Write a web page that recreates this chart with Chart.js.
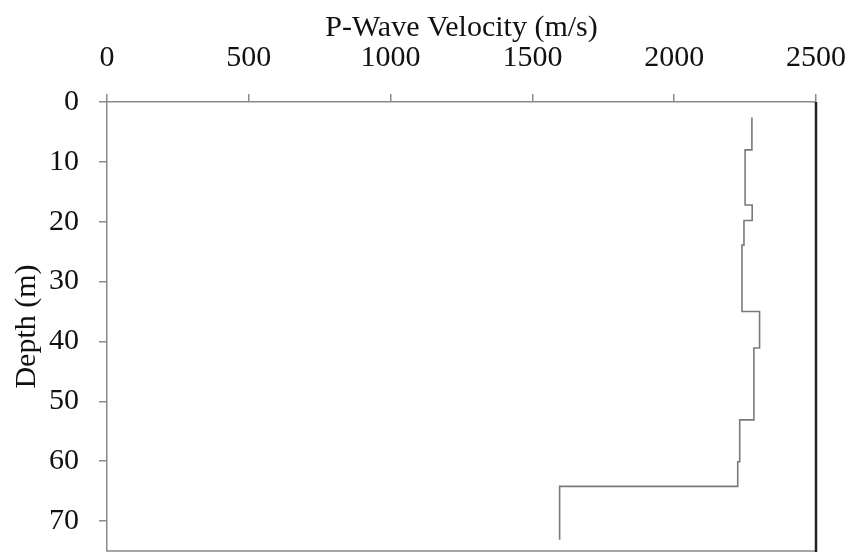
<!DOCTYPE html>
<html>
<head>
<meta charset="utf-8">
<script src="https://cdn.jsdelivr.net/npm/chart.js@4"></script>
<style>
  html, body { margin: 0; padding: 0; background: #fff; }
  #wrap { width: 854px; height: 552px; }
</style>
</head>
<body>
<div id="wrap"><canvas id="chart" width="854" height="552"></canvas></div>
<script>
// layer tops / bottoms (depth, m) and P-wave velocity of each layer (m/s)
const layerTop = [2.6, 8.0, 17.2, 19.8, 23.9, 35.0, 41.1, 53.1, 60.1, 64.2];
const layerBottom = [8.0, 17.2, 19.8, 23.9, 35.0, 41.1, 53.1, 60.1, 64.2, 73.1];
const velocity = [2274, 2250, 2275, 2246, 2239, 2301, 2281, 2231, 2224, 1596];

const xTicks = [0, 500, 1000, 1500, 2000, 2500];
const yTicks = [0, 10, 20, 30, 40, 50, 60, 70];

// each layer gives a vertical segment, joined by horizontal steps
const points = [];
velocity.forEach((v, i) => {
	points.push({ x: v, y: layerTop[i] });
	points.push({ x: v, y: layerBottom[i] });
});

const axisGrey = "#8a8a8a";
const serif = "'Liberation Serif', 'Times New Roman', serif";

// fixed plot box, no auto padding for overflowing labels
const fixSize = (size) => (s) => {
	if (s.isHorizontal()) s.height = size;
	else s.width = size;
	s.paddingLeft = s.paddingRight = s.paddingTop = s.paddingBottom = 0;
};

const frame = {
	id: "frame",
	afterDraw(chart) {
		const { ctx, chartArea: a } = chart;
		ctx.save();
		ctx.strokeStyle = axisGrey;
		ctx.lineWidth = 1.5;
		ctx.beginPath();
		ctx.moveTo(a.left, a.bottom);
		ctx.lineTo(a.right, a.bottom);
		ctx.stroke();
		ctx.strokeStyle = "#222";
		ctx.lineWidth = 2.5;
		ctx.beginPath();
		ctx.moveTo(a.right, a.top);
		ctx.lineTo(a.right, a.bottom + 1);
		ctx.stroke();
		ctx.restore();
	},
};

new Chart(document.getElementById("chart"), {
	type: "scatter",
	data: {
		datasets: [
			{
				data: points,
				showLine: true,
				borderColor: "#7a7a7a",
				borderWidth: 1.6,
				pointRadius: 0,
				fill: false,
			},
		],
	},
	options: {
		responsive: false,
		animation: false,
		devicePixelRatio: 1,
		layout: { padding: { left: 0, top: 0, right: 38, bottom: 1 } },
		plugins: { legend: { display: false }, tooltip: { enabled: false } },
		scales: {
			x: {
				type: "linear",
				position: "top",
				min: 0,
				max: 2500,
				afterFit: fixSize(102),
				afterBuildTicks: (s) => { s.ticks = xTicks.map((v) => ({ value: v })); },
				border: { color: axisGrey, width: 1.5 },
				grid: { drawOnChartArea: false, drawTicks: true, tickLength: 8, color: axisGrey, lineWidth: 1.5 },
				ticks: {
					color: "#111",
					padding: 18,
					maxRotation: 0,
					font: { family: serif, size: 30 },
					callback: (v) => String(v),
				},
				title: {
					display: true,
					text: "P-Wave Velocity (m/s)",
					color: "#111",
					font: { family: serif, size: 30 },
					padding: { top: 10, bottom: 0 },
				},
			},
			y: {
				type: "linear",
				reverse: true,
				min: 0,
				max: 75,
				afterFit: fixSize(107),
				afterBuildTicks: (s) => { s.ticks = yTicks.map((v) => ({ value: v })); },
				border: { color: axisGrey, width: 1.5 },
				grid: { drawOnChartArea: false, drawTicks: true, tickLength: 8, color: axisGrey, lineWidth: 1.5 },
				ticks: {
					color: "#111",
					padding: 20,
					font: { family: serif, size: 30 },
					callback: (v) => String(v),
				},
				title: {
					display: true,
					text: "Depth (m)",
					color: "#111",
					font: { family: serif, size: 30 },
					padding: { top: 9, bottom: 0 },
				},
			},
		},
	},
	plugins: [frame],
});
</script>
</body>
</html>
